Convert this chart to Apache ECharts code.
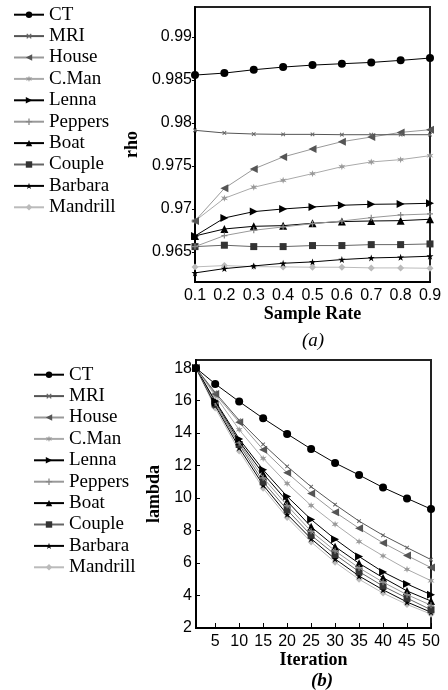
<!DOCTYPE html>
<html>
<head>
<meta charset="utf-8">
<script src="https://cdn.jsdelivr.net/npm/echarts@6/dist/echarts.min.js"></script>
<style>
  html, body { margin: 0; padding: 0; background: #fff; }
  #main { width: 448px; height: 690px; }
</style>
</head>
<body>
<div id="main"></div>
<script>
const names = ['CT', 'MRI', 'House', 'C.Man', 'Lenna', 'Peppers', 'Boat', 'Couple', 'Barbara', 'Mandrill'];

// (a) rho vs sample rate
const sampleRates = ['0.1', '0.2', '0.3', '0.4', '0.5', '0.6', '0.7', '0.8', '0.9'];
const rhoCT = [0.98558, 0.98581, 0.9862, 0.98651, 0.98674, 0.9869, 0.98705, 0.98729, 0.98756];
const rhoMRI = [0.97915, 0.97884, 0.97872, 0.97868, 0.97868, 0.97864, 0.97864, 0.97864, 0.97864];
const rhoHouse = [0.9686, 0.9724, 0.97465, 0.97605, 0.97698, 0.97783, 0.97837, 0.97891, 0.97922];
const rhoCMan = [0.9686, 0.97124, 0.97252, 0.97333, 0.97411, 0.97492, 0.97547, 0.97574, 0.9762];
const rhoLenna = [0.96686, 0.96895, 0.96969, 0.97, 0.97023, 0.97043, 0.97054, 0.97058, 0.97066];
const rhoPeppers = [0.96562, 0.9669, 0.96752, 0.96791, 0.96829, 0.9686, 0.96899, 0.9693, 0.96942];
const rhoBoat = [0.96686, 0.96767, 0.96798, 0.96806, 0.96833, 0.96853, 0.9686, 0.96864, 0.9688];
const rhoCouple = [0.96562, 0.96578, 0.96562, 0.96562, 0.96574, 0.96574, 0.96585, 0.96585, 0.96593];
const rhoBarbara = [0.96256, 0.96306, 0.96337, 0.96368, 0.96384, 0.96411, 0.9643, 0.96438, 0.9645];
const rhoMandrill = [0.96326, 0.96341, 0.96329, 0.96326, 0.96322, 0.96322, 0.96314, 0.96314, 0.9631];
const rhoTicks = [0.965, 0.97, 0.975, 0.98, 0.985, 0.99];

// (b) lambda vs iteration
const iterations = [1, 5, 10, 15, 20, 25, 30, 35, 40, 45, 50];
const iterTicks = [5, 10, 15, 20, 25, 30, 35, 40, 45, 50];
const lambdaTicks = [2, 4, 6, 8, 10, 12, 14, 16, 18];
const lamCT = [18, 17.03, 15.94, 14.91, 13.95, 13.02, 12.16, 11.42, 10.65, 9.98, 9.32];
const lamMRI = [18, 16.5, 14.79, 13.31, 11.95, 10.7, 9.6, 8.58, 7.71, 6.95, 6.21];
const lamHouse = [18, 16.4, 14.67, 12.98, 11.56, 10.28, 9.13, 8.14, 7.24, 6.46, 5.72];
const lamCMan = [18, 16.3, 14.21, 12.44, 10.9, 9.54, 8.39, 7.32, 6.44, 5.61, 4.91];
const lamLenna = [18, 15.98, 13.64, 11.74, 10.1, 8.68, 7.47, 6.4, 5.45, 4.71, 4.05];
const lamPeppers = [18, 15.85, 13.4, 11.25, 9.55, 7.95, 6.75, 5.7, 4.82, 4.05, 3.4];
const lamBoat = [18, 15.9, 13.49, 11.5, 9.81, 8.23, 7.01, 5.98, 5.1, 4.28, 3.66];
const lamCouple = [18, 15.78, 13.3, 11.0, 9.28, 7.71, 6.52, 5.47, 4.58, 3.84, 3.12];
const lamBarbara = [18, 15.7, 13.1, 10.8, 9.0, 7.5, 6.25, 5.2, 4.35, 3.6, 2.97];
const lamMandrill = [18, 15.55, 12.9, 10.6, 8.8, 7.3, 6.05, 5.0, 4.15, 3.45, 2.85];

const rhoData = [rhoCT, rhoMRI, rhoHouse, rhoCMan, rhoLenna, rhoPeppers, rhoBoat, rhoCouple, rhoBarbara, rhoMandrill];
const lamData = [lamCT, lamMRI, lamHouse, lamCMan, lamLenna, lamPeppers, lamBoat, lamCouple, lamBarbara, lamMandrill];

const plus = 'path://M4,0h2v4h4v2h-4v4h-2v-4h-4v-2h4z';
const star = 'path://M5,0L6.2,3.6L10,3.6L6.9,5.9L8.1,9.5L5,7.3L1.9,9.5L3.1,5.9L0,3.6L3.8,3.6Z';
const starBurst = 'path://M5,0L6,3.3L9.3,2.2L7,5L9.3,7.8L6,6.7L5,10L4,6.7L0.7,7.8L3,5L0.7,2.2L4,3.3Z';
const looks = [
  { line: '#000', mark: '#000', symbol: 'circle', size: 8 },
  { line: '#555', mark: '#666', symbol: plus, size: 5, rotate: 45 },
  { line: '#999', mark: '#555', symbol: 'path://M0,5L10,0L10,10Z', size: 8 },
  { line: '#aaa', mark: '#999', symbol: starBurst, size: 7 },
  { line: '#000', mark: '#000', symbol: 'path://M10,5L0,0L0,10Z', size: 8 },
  { line: '#999', mark: '#888', symbol: plus, size: 6 },
  { line: '#000', mark: '#000', symbol: 'triangle', size: 8 },
  { line: '#666', mark: '#333', symbol: 'rect', size: 7 },
  { line: '#000', mark: '#000', symbol: star, size: 7 },
  { line: '#bbb', mark: '#bbb', symbol: 'diamond', size: 7 }
];

const serif = 'Liberation Serif';
const sans = 'Liberation Sans';

function makeSeries(i, data, axis) {
  const lk = looks[i];
  return {
    name: names[i],
    type: 'line',
    xAxisIndex: axis,
    yAxisIndex: axis,
    data: data,
    symbol: lk.symbol,
    symbolSize: lk.size,
    symbolRotate: lk.rotate || 0,
    showAllSymbol: true,
    lineStyle: { color: lk.line, width: 1 },
    itemStyle: { color: lk.mark },
    emphasis: { disabled: true },
    animation: false,
    z: 10 - i
  };
}

const series = [];
rhoData.forEach((d, i) => series.push(makeSeries(i, d, 0)));
lamData.forEach((d, i) => series.push(makeSeries(i, iterations.map((x, k) => [x, d[k]]), 1)));

function makeLegend(left, top) {
  return {
    orient: 'vertical',
    left: left,
    top: top,
    padding: 0,
    data: names.map(n => ({
      name: n,
      textStyle: { fontFamily: serif, fontSize: 19, color: '#000' }
    })),
    itemWidth: 30,
    itemHeight: 8,
    itemGap: 0,
    selectedMode: false,
    textStyle: { fontFamily: serif, fontSize: 19, lineHeight: 21.4, color: '#000' }
  };
}

const axisLine = { show: true, lineStyle: { color: '#000', width: 2 } };

const chart = echarts.init(document.getElementById('main'));
chart.setOption({
  animation: false,
  textStyle: { fontFamily: serif },
  title: [
    { text: '(a)', left: 302, top: 331, textStyle: { fontFamily: serif, fontStyle: 'italic', fontWeight: 'normal', fontSize: 19, color: '#000' }, padding: 0 },
    { text: '(b)', left: 311, top: 672, textStyle: { fontFamily: serif, fontStyle: 'italic', fontWeight: 'bold', fontSize: 19, color: '#000' }, padding: 0 }
  ],
  legend: [makeLegend(13, 4), makeLegend(33, 364)],
  grid: [
    { left: 195, top: 7, width: 235, height: 275, show: true, borderColor: '#222', borderWidth: 2 },
    { left: 196, top: 360, width: 235, height: 268, show: true, borderColor: '#222', borderWidth: 2 }
  ],
  xAxis: [
    {
      gridIndex: 0, type: 'category', data: sampleRates, boundaryGap: false,
      name: 'Sample Rate', nameLocation: 'middle', nameGap: 22,
      nameTextStyle: { fontFamily: serif, fontWeight: 'bold', fontSize: 18, color: '#000' },
      axisLine: axisLine,
      axisTick: { show: false },
      axisLabel: { fontFamily: sans, fontSize: 16, color: '#000', margin: 6 },
      splitLine: { show: false }
    },
    {
      gridIndex: 1, type: 'value', min: 1, max: 50,
      name: 'Iteration', nameLocation: 'middle', nameGap: 21,
      nameTextStyle: { fontFamily: serif, fontWeight: 'bold', fontSize: 18, color: '#000' },
      axisLine: axisLine,
      axisTick: { show: true, inside: true, length: 5, customValues: iterTicks, lineStyle: { color: '#000' } },
      axisLabel: { fontFamily: sans, fontSize: 16, color: '#000', margin: 6, customValues: iterTicks },
      splitLine: { show: false }
    }
  ],
  yAxis: [
    {
      gridIndex: 0, type: 'value', min: 0.9615, max: 0.9935,
      name: 'rho', nameLocation: 'middle', nameGap: 43,
      nameTextStyle: { fontFamily: serif, fontWeight: 'bold', fontSize: 18, color: '#000' },
      axisLine: axisLine,
      axisTick: { show: true, length: 3, customValues: rhoTicks, lineStyle: { color: '#000' } },
      axisLabel: { fontFamily: sans, fontSize: 16, color: '#000', margin: 3, customValues: rhoTicks },
      splitLine: { show: false }
    },
    {
      gridIndex: 1, type: 'value', min: 2, max: 18.5,
      name: 'lambda', nameLocation: 'middle', nameGap: 24,
      nameTextStyle: { fontFamily: serif, fontWeight: 'bold', fontSize: 18, color: '#000' },
      axisLine: axisLine,
      axisTick: { show: true, inside: true, length: 4, customValues: lambdaTicks, lineStyle: { color: '#000' } },
      axisLabel: { fontFamily: sans, fontSize: 16, color: '#000', margin: 4, customValues: lambdaTicks },
      splitLine: { show: false }
    }
  ],
  series: series
});
</script>
</body>
</html>
